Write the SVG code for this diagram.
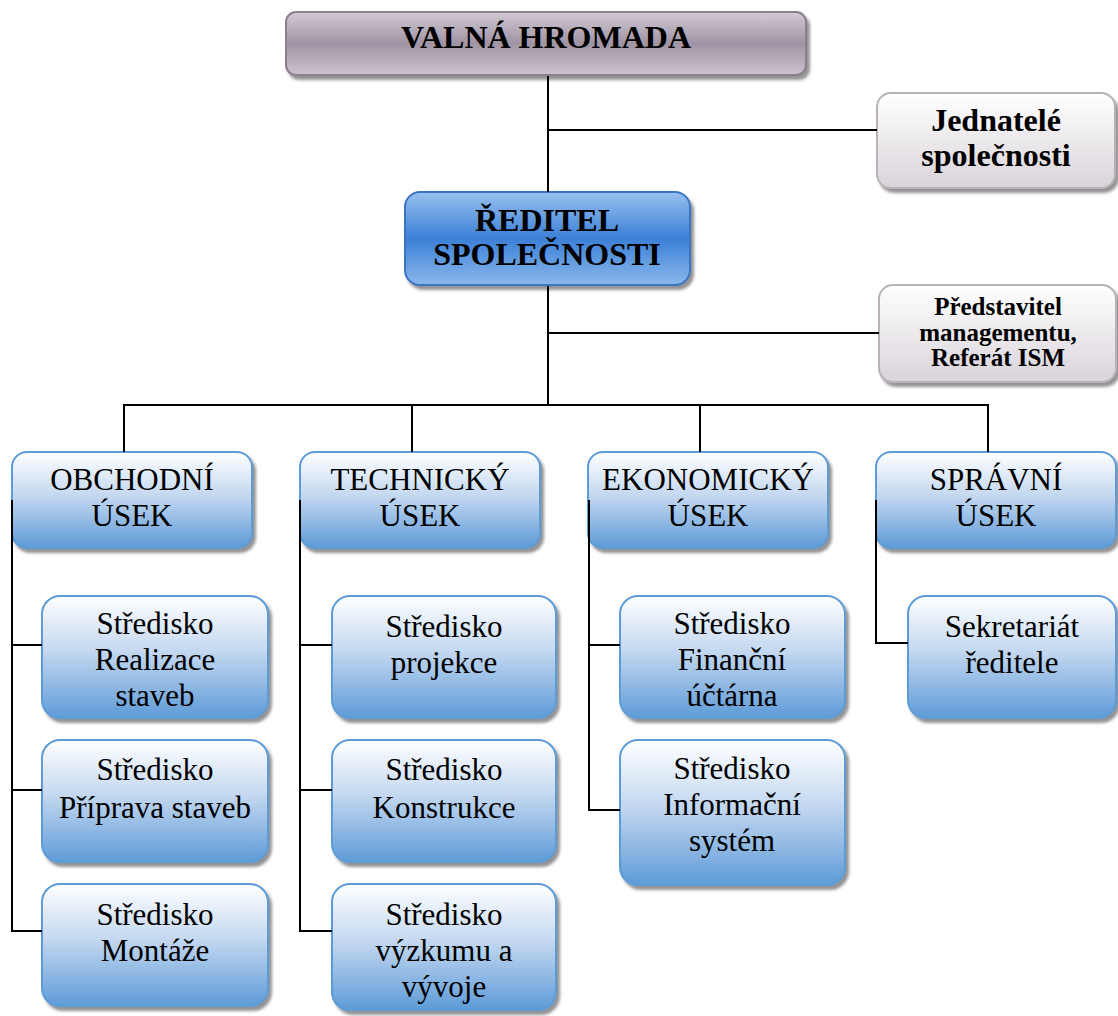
<svg xmlns="http://www.w3.org/2000/svg" width="1118" height="1016" viewBox="0 0 1118 1016">
  <defs>
    <linearGradient id="gMauve" x1="0" y1="0" x2="0" y2="1">
      <stop offset="0" stop-color="#d3cbd6"/>
      <stop offset="0.5" stop-color="#a093a3"/>
      <stop offset="1" stop-color="#cdc3cf"/>
    </linearGradient>
    <linearGradient id="gBlueBold" x1="0" y1="0" x2="0" y2="1">
      <stop offset="0" stop-color="#98c0f0"/>
      <stop offset="0.5" stop-color="#3c80d6"/>
      <stop offset="1" stop-color="#8ab8ec"/>
    </linearGradient>
    <linearGradient id="gGrey" x1="0" y1="0" x2="0" y2="1">
      <stop offset="0" stop-color="#ffffff"/>
      <stop offset="1" stop-color="#d9d3da"/>
    </linearGradient>
    <linearGradient id="gBlue" x1="0" y1="0" x2="0" y2="1">
      <stop offset="0" stop-color="#ffffff"/>
      <stop offset="0.45" stop-color="#c4d8f0"/>
      <stop offset="1" stop-color="#5e9bd8"/>
    </linearGradient>
    <filter id="shadow" x="-10%" y="-10%" width="125%" height="130%">
      <feDropShadow dx="3" dy="4" stdDeviation="1.5" flood-color="#3a3a3a" flood-opacity="0.55"/>
    </filter>
    <style>
      .top { fill: url(#gMauve); stroke: #8c7f8f; stroke-width: 2; filter: url(#shadow); }
      .dir { fill: url(#gBlueBold); stroke: #3a74c2; stroke-width: 2; filter: url(#shadow); }
      .aux { fill: url(#gGrey); stroke: #b9b0ba; stroke-width: 2; filter: url(#shadow); }
      .unit { fill: url(#gBlue); stroke: #5b9bd5; stroke-width: 2; filter: url(#shadow); }
      text { font-family: "Liberation Serif", "Times New Roman", serif; fill: #000; text-anchor: middle; }
      .b { font-weight: bold; }
      .t32 { font-size: 32px; }
      .t25 { font-size: 25px; }
      .t31 { font-size: 31px; }
      .wire { stroke: #000; stroke-width: 2; fill: none; }
    </style>
  </defs>

  <!-- governing body -->
  <g id="valna-hromada">
    <rect class="top" x="286" y="12" width="520" height="63" rx="10"/>
    <text class="b t32" x="546" y="48">VALNÁ HROMADA</text>
  </g>

  <g id="jednatele">
    <rect class="aux" x="877" y="93" width="238" height="95" rx="14"/>
    <text class="b t32" x="996" y="131">Jednatelé</text>
    <text class="b t32" x="996" y="166">společnosti</text>
  </g>

  <g id="reditel">
    <rect class="dir" x="405" y="192" width="285" height="93" rx="15"/>
    <text class="b t32" x="547" y="231">ŘEDITEL</text>
    <text class="b t32" x="547" y="265">SPOLEČNOSTI</text>
  </g>

  <g id="predstavitel">
    <rect class="aux" x="879" y="285" width="237" height="97" rx="14"/>
    <text class="b t25" x="998" y="315">Představitel</text>
    <text class="b t25" x="998" y="341">managementu,</text>
    <text class="b t25" x="998" y="366">Referát ISM</text>
  </g>

  <!-- divisions -->
  <g id="obchodni-usek">
    <rect class="unit" x="12" y="452" width="240" height="96" rx="15"/>
    <text class="t31" x="132" y="490">OBCHODNÍ</text>
    <text class="t31" x="132" y="526">ÚSEK</text>
  </g>
  <g id="technicky-usek">
    <rect class="unit" x="300" y="452" width="240" height="96" rx="15"/>
    <text class="t31" x="420" y="490">TECHNICKÝ</text>
    <text class="t31" x="420" y="526">ÚSEK</text>
  </g>
  <g id="ekonomicky-usek">
    <rect class="unit" x="588" y="452" width="240" height="96" rx="15"/>
    <text class="t31" x="708" y="490">EKONOMICKÝ</text>
    <text class="t31" x="708" y="526">ÚSEK</text>
  </g>
  <g id="spravni-usek">
    <rect class="unit" x="876" y="452" width="240" height="96" rx="15"/>
    <text class="t31" x="996" y="490">SPRÁVNÍ</text>
    <text class="t31" x="996" y="526">ÚSEK</text>
  </g>

  <!-- centres: sales division -->
  <g id="realizace-staveb">
    <rect class="unit" x="42" y="596" width="226" height="122" rx="18"/>
    <text class="t31" x="155" y="634">Středisko</text>
    <text class="t31" x="155" y="670">Realizace</text>
    <text class="t31" x="155" y="706">staveb</text>
  </g>
  <g id="priprava-staveb">
    <rect class="unit" x="42" y="740" width="226" height="122" rx="18"/>
    <text class="t31" x="155" y="780">Středisko</text>
    <text class="t31" x="155" y="818">Příprava staveb</text>
  </g>
  <g id="montaze">
    <rect class="unit" x="42" y="884" width="226" height="122" rx="18"/>
    <text class="t31" x="155" y="925">Středisko</text>
    <text class="t31" x="155" y="961">Montáže</text>
  </g>

  <!-- centres: technical division -->
  <g id="projekce">
    <rect class="unit" x="332" y="596" width="224" height="122" rx="18"/>
    <text class="t31" x="444" y="637">Středisko</text>
    <text class="t31" x="444" y="673">projekce</text>
  </g>
  <g id="konstrukce">
    <rect class="unit" x="332" y="740" width="224" height="122" rx="18"/>
    <text class="t31" x="444" y="780">Středisko</text>
    <text class="t31" x="444" y="818">Konstrukce</text>
  </g>
  <g id="vyzkum-vyvoj">
    <rect class="unit" x="332" y="884" width="224" height="126" rx="18"/>
    <text class="t31" x="444" y="925">Středisko</text>
    <text class="t31" x="444" y="961">výzkumu a</text>
    <text class="t31" x="444" y="997">vývoje</text>
  </g>

  <!-- centres: economic division -->
  <g id="financni-uctarna">
    <rect class="unit" x="620" y="596" width="225" height="122" rx="18"/>
    <text class="t31" x="732" y="634">Středisko</text>
    <text class="t31" x="732" y="670">Finanční</text>
    <text class="t31" x="732" y="706">účtárna</text>
  </g>
  <g id="informacni-system">
    <rect class="unit" x="620" y="740" width="225" height="145" rx="18"/>
    <text class="t31" x="732" y="779">Středisko</text>
    <text class="t31" x="732" y="815">Informační</text>
    <text class="t31" x="732" y="851">systém</text>
  </g>

  <!-- centres: administration -->
  <g id="sekretariat">
    <rect class="unit" x="908" y="596" width="208" height="122" rx="18"/>
    <text class="t31" x="1012" y="637">Sekretariát</text>
    <text class="t31" x="1012" y="673">ředitele</text>
  </g>

  <!-- connectors -->
  <g id="connectors" class="wire">
    <line x1="548" y1="76" x2="548" y2="192"/>
    <line x1="548" y1="130" x2="877" y2="130"/>
    <line x1="548" y1="286" x2="548" y2="405"/>
    <line x1="548" y1="333" x2="879" y2="333"/>
    <line x1="123" y1="405" x2="989" y2="405"/>
    <line x1="124" y1="404" x2="124" y2="452"/>
    <line x1="412" y1="404" x2="412" y2="452"/>
    <line x1="700" y1="404" x2="700" y2="452"/>
    <line x1="988" y1="404" x2="988" y2="452"/>

    <polyline points="12,500 12,931 42,931"/>
    <line x1="12" y1="645" x2="42" y2="645"/>
    <line x1="12" y1="790" x2="42" y2="790"/>

    <polyline points="300,500 300,931 332,931"/>
    <line x1="300" y1="645" x2="332" y2="645"/>
    <line x1="300" y1="790" x2="332" y2="790"/>

    <polyline points="589,500 589,810 620,810"/>
    <line x1="589" y1="645" x2="620" y2="645"/>

    <polyline points="876,500 876,643 908,643"/>
  </g>
</svg>
